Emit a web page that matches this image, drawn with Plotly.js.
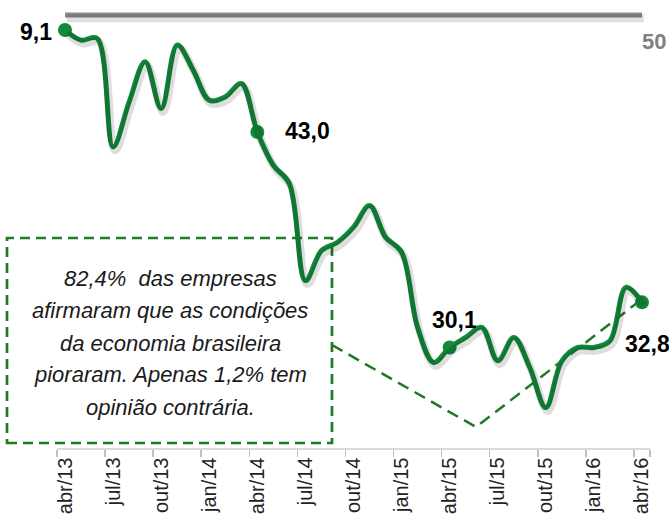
<!DOCTYPE html>
<html>
<head>
<meta charset="utf-8">
<script src="https://cdn.plot.ly/plotly-3.0.1.min.js"></script>
<style>
html,body{margin:0;padding:0;background:#fff;}
#chart{width:669px;height:515px;}
</style>
</head>
<body>
<div id="chart"></div>
<script>
const months = ["abr/13","mai/13","jun/13","jul/13","ago/13","set/13","out/13","nov/13","dez/13",
  "jan/14","fev/14","mar/14","abr/14","mai/14","jun/14","jul/14","ago/14","set/14","out/14","nov/14","dez/14",
  "jan/15","fev/15","mar/15","abr/15","mai/15","jun/15","jul/15","ago/15","set/15","out/15","nov/15","dez/15",
  "jan/16","fev/16","mar/16","abr/16"];
const values = [49.1,48.5,48.6,42.1,44.8,47.2,44.4,48.2,46.7,
  44.9,45.1,45.9,43.0,41.0,39.9,34.1,35.9,36.4,37.3,38.6,36.7,
  35.8,31.3,29.2,30.1,30.7,31.3,29.3,30.7,28.9,26.5,29.3,30.1,
  30.1,30.5,33.7,32.8];
const tickMonths = ["abr/13","jul/13","out/13","jan/14","abr/14","jul/14","out/14","jan/15","abr/15","jul/15","out/15","jan/16","abr/16"];
const markedMonths = ["abr/13","abr/14","abr/15","abr/16"];
const markedValues = [49.1,43.0,30.1,32.8];
const markedLabels = ["9,1","43,0","30,1","32,8"];
const refLevel = 50;
const refLabel = "50";
const noteLines = ["82,4%  das empresas","afirmaram que as condições","da economia brasileira","pioraram. Apenas 1,2% tem","opinião contrária."];

const GREEN = "#13893b";
const DGREEN = "#1f7a23";
const FONT = "Liberation Sans, Arial, sans-serif";
const yr = [24.08, 50.3];
const xr = [-0.5, 36.5];

const traces = [
  {x:[months[0], months[months.length-1]], y:[refLevel, refLevel], xaxis:"x2", yaxis:"y2", mode:"lines",
   line:{color:"rgba(0,0,0,0.12)", width:8}, hoverinfo:"skip", showlegend:false},
  {x:months, y:values, xaxis:"x2", yaxis:"y2", mode:"lines",
   line:{color:"rgba(0,0,0,0.13)", width:8, shape:"spline", smoothing:1}, hoverinfo:"skip", showlegend:false},
  {x:[months[0], months[months.length-1]], y:[refLevel, refLevel], mode:"lines",
   line:{color:"#8a8a8a", width:5}, showlegend:false},
  {x:months, y:values, mode:"lines",
   line:{color:GREEN, width:5, shape:"spline", smoothing:1}, showlegend:false},
  {x:markedMonths, y:markedValues, mode:"markers",
   marker:{color:GREEN, size:14}, showlegend:false}
];

const labFont = {family:FONT, size:23, color:"#000"};
const annotations = [
  {x:markedMonths[0], y:markedValues[0], text:"<b>"+markedLabels[0]+"</b>", showarrow:false, xanchor:"right", yanchor:"middle", xshift:-11, yshift:-2, font:labFont},
  {x:markedMonths[1], y:markedValues[1], text:"<b>"+markedLabels[1]+"</b>", showarrow:false, xanchor:"left", yanchor:"middle", xshift:26, yshift:1, font:labFont},
  {x:markedMonths[2], y:markedValues[2], text:"<b>"+markedLabels[2]+"</b>", showarrow:false, xanchor:"left", yanchor:"middle", xshift:-20, yshift:27, font:labFont},
  {x:markedMonths[3], y:markedValues[3], text:"<b>"+markedLabels[3]+"</b>", showarrow:false, xanchor:"left", yanchor:"middle", xshift:-19, yshift:-42, font:labFont},
  {x:months[months.length-1], y:refLevel, text:"<b>"+refLabel+"</b>", showarrow:false, xanchor:"left", yanchor:"middle", xshift:-2, yshift:-26,
   font:{family:FONT, size:22, color:"#808080"}}
];
const noteY = [0.3881, 0.3128, 0.2397, 0.1667, 0.0936];
noteLines.forEach((t, i) => annotations.push({xref:"paper", yref:"paper", x:0.1906, y:noteY[i], text:t, showarrow:false,
  xanchor:"center", yanchor:"middle", font:{family:FONT, size:22, color:"#1a1a1a", style:"italic"}}));

const shapes = [
  {type:"rect", xref:"paper", yref:"paper", x0:-0.0843, x1:0.4637, y0:0.0114, y1:0.4795, layer:"below",
   line:{color:DGREEN, width:2.7, dash:"10px,6px"}, fillcolor:"rgba(0,0,0,0)"},
  {type:"path", xref:"paper", yref:"paper", layer:"below",
   path:"M 0.4637 0.2352 L 0.7066 0.0479 L 0.9781 0.3311",
   line:{color:DGREEN, width:2.5, dash:"12px,7px"}}
];

const layout = {
  width:669, height:515,
  margin:{l:57, r:19, t:10, b:67},
  paper_bgcolor:"#fff", plot_bgcolor:"rgba(0,0,0,0)",
  showlegend:false,
  xaxis:{type:"category", categoryorder:"array", categoryarray:months, range:xr,
    tickmode:"array", tickvals:tickMonths, ticktext:tickMonths, tickson:"boundaries",
    ticks:"outside", ticklen:7, tickcolor:"#bfbfbf", tickwidth:1.5,
    showline:true, linecolor:"#d9d9d9", linewidth:1.5, showgrid:false, zeroline:false,
    tickangle:-90, tickfont:{family:FONT, size:20, color:"#222"}},
  yaxis:{range:yr, visible:false, showgrid:false, zeroline:false},
  xaxis2:{type:"category", categoryorder:"array", categoryarray:months, range:[xr[0]-0.12, xr[1]-0.12], overlaying:"x", visible:false},
  yaxis2:{range:[yr[0]+0.2, yr[1]+0.2], overlaying:"y", visible:false},
  annotations:annotations,
  shapes:shapes
};

Plotly.newPlot("chart", traces, layout, {staticPlot:true, displayModeBar:false});
</script>
</body>
</html>
